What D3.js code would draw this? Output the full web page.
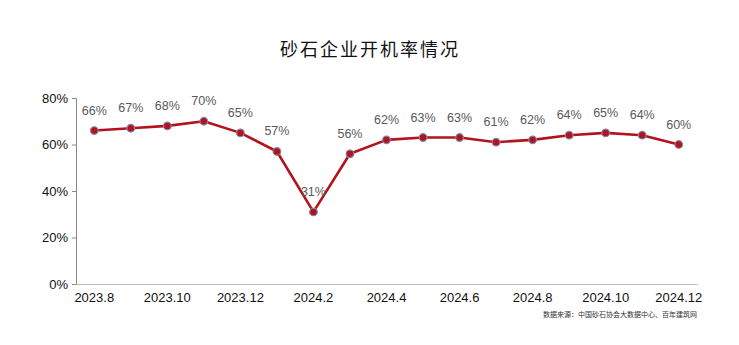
<!DOCTYPE html>
<html>
<head>
<meta charset="utf-8">
<script src="https://cdn.jsdelivr.net/npm/d3@7"></script>
<style>
  html, body { margin: 0; padding: 0; background: #fff; }
  svg { display: block; }
</style>
</head>
<body>
<svg id="chart" width="739" height="345"></svg>
<script>
// Monthly operating rate of sand & gravel enterprises
const months = ["2023.8","2023.9","2023.10","2023.11","2023.12","2024.1","2024.2","2024.3",
                "2024.4","2024.5","2024.6","2024.7","2024.8","2024.9","2024.10","2024.11","2024.12"];
const rates = [66, 67, 68, 70, 65, 57, 31, 56, 62, 63, 63, 61, 62, 64, 65, 64, 60];
const yTicks = [0, 20, 40, 60, 80];
const titleText = "砂石企业开机率情况";
const sourceText = "数据来源：中国砂石协会大数据中心、百年建筑网";

const svg = d3.select("#chart");
const margin = { left: 76, right: 42, top: 98, bottom: 61 };
const W = 739, H = 345;

const x = d3.scaleBand().domain(months).range([margin.left, W - margin.right]);
const y = d3.scaleLinear().domain([0, 80]).range([H - margin.bottom, margin.top]);

// Title
svg.append("text")
  .attr("x", 370).attr("y", 56)
  .attr("text-anchor", "middle")
  .attr("font-family", "'Noto Sans CJK SC', sans-serif")
  .attr("font-size", 18)
  .attr("letter-spacing", 2)
  .attr("fill", "#111")
  .text(titleText);

// Y axis
const yAxis = d3.axisLeft(y).tickValues(yTicks).tickFormat(d => d + "%").tickSize(4).tickPadding(4);
const gy = svg.append("g").attr("transform", `translate(${margin.left},0)`).call(yAxis);
gy.select(".domain").attr("stroke", "#888");
gy.selectAll(".tick line").attr("stroke", "#888");
gy.selectAll(".tick text").attr("font-family", "'Liberation Sans', Arial, sans-serif")
  .attr("font-size", 13).attr("fill", "#111");

// X axis (labels every other month, no tick marks)
const xAxis = d3.axisBottom(x).tickValues(months.filter((d, i) => i % 2 === 0)).tickSize(0).tickPadding(9);
const gx = svg.append("g").attr("transform", `translate(0,${H - margin.bottom})`).call(xAxis);
gx.select(".domain").attr("stroke", "#bbb");
gx.selectAll(".tick text").attr("font-family", "'Liberation Sans', Arial, sans-serif")
  .attr("font-size", 13).attr("fill", "#111");

const cx = d => x(d) + x.bandwidth() / 2;

// Line
const line = d3.line().x((d, i) => cx(months[i])).y(d => y(d));
svg.append("path")
  .datum(rates)
  .attr("d", line)
  .attr("fill", "none")
  .attr("stroke", "#B3131C")
  .attr("stroke-width", 2.6)
  .attr("stroke-linejoin", "round");

// Markers
svg.selectAll("circle.pt")
  .data(rates)
  .join("circle")
  .attr("class", "pt")
  .attr("cx", (d, i) => cx(months[i]))
  .attr("cy", d => y(d))
  .attr("r", 3.8)
  .attr("fill", "#B3131C")
  .attr("stroke", "#7f86b0")
  .attr("stroke-width", 1.2);

// Value labels
svg.selectAll("text.val")
  .data(rates)
  .join("text")
  .attr("class", "val")
  .attr("x", (d, i) => cx(months[i]))
  .attr("y", d => y(d) - 16)
  .attr("text-anchor", "middle")
  .attr("font-family", "'Liberation Sans', Arial, sans-serif")
  .attr("font-size", 12.5)
  .attr("fill", "#595959")
  .text(d => d + "%");

// Source note
svg.append("text")
  .attr("x", 697).attr("y", 317)
  .attr("text-anchor", "end")
  .attr("font-family", "'Noto Sans CJK SC', sans-serif")
  .attr("font-size", 7)
  .attr("fill", "#333")
  .text(sourceText);
</script>
</body>
</html>
